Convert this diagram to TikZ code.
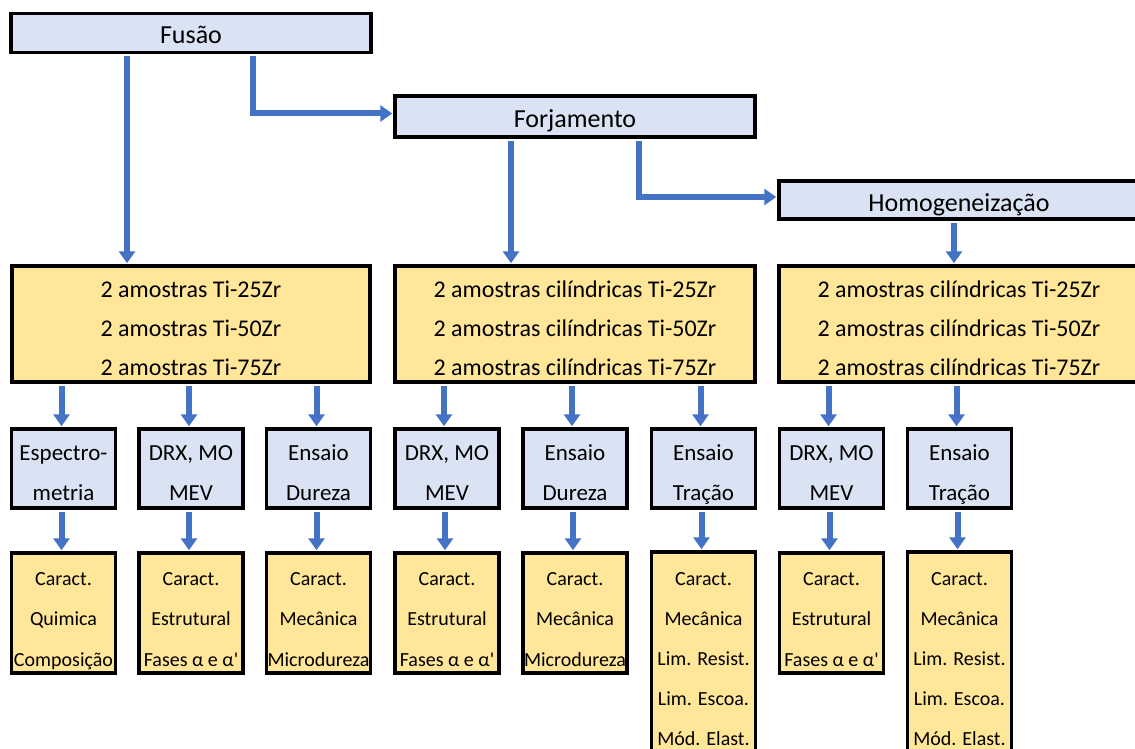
\documentclass[tikz,border=0pt]{standalone}
\usepackage{fontspec}
\setmainfont{Carlito}[Ligatures=TeXOff]
\usetikzlibrary{arrows.meta}
\definecolor{boxblue}{RGB}{218,227,243}
\definecolor{boxyel}{RGB}{255,230,153}
\definecolor{arrblue}{RGB}{68,114,196}
\newcommand{\firststrut}[1]{\rule{0pt}{#1}}
\newcommand{\laststrut}{\rule[-6pt]{0pt}{0pt}}
\tikzset{
  topbox/.style={draw=black, line width=3.5pt, fill=boxblue, inner sep=0pt,
    minimum width=360pt, minimum height=39pt, text height=24pt, text depth=2pt,
    font=\fontsize{26}{30}\selectfont},
  yelbox/.style={draw=black, line width=3.5pt, fill=boxyel, inner sep=0pt, align=center,
    minimum width=360pt, minimum height=116pt, font=\fontsize{24}{39}\selectfont},
  bluebox/.style={draw=black, line width=3.5pt, fill=boxblue, inner sep=0pt, align=center,
    minimum width=104pt, minimum height=79pt, font=\fontsize{23}{40}\selectfont},
  resbox/.style={draw=black, line width=3.5pt, fill=boxyel, inner sep=0pt, align=center,
    minimum width=104pt, minimum height=120pt, font=\fontsize{20}{40.5}\selectfont},
  longbox/.style={resbox, minimum height=201pt, font=\fontsize{20}{40}\selectfont},
  arr/.style={draw=arrblue, line width=6pt, -{Triangle[width=16pt,length=12pt]},
    shorten <=2pt, shorten >=1pt}
}
\begin{document}
\begin{tikzpicture}[x=1pt,y=-1pt]
\useasboundingbox (0,0) rectangle (1135,749);
\fill[white] (0,0) rectangle (1135,749);
\clip (0,0) rectangle (1135,749);

% top process boxes
\node[topbox] (fus) at (191,33) {Fusão};
\node[topbox, minimum height=41pt] (forj) at (575,116.5) {Forjamento};
\node[topbox, minimum height=38pt] (homo) at (959,200) {Homogeneização};

% sample boxes
\node[yelbox, minimum width=358pt] (y1) at (191,324) {\firststrut{30pt}2 amostras Ti-25Zr\\2 amostras Ti-50Zr\\2 amostras Ti-75Zr\laststrut};
\node[yelbox] (y2) at (575,324) {\firststrut{30pt}2 amostras cilíndricas Ti-25Zr\\2 amostras cilíndricas Ti-50Zr\\2 amostras cilíndricas Ti-75Zr\laststrut};
\node[yelbox] (y3) at (959,324) {\firststrut{30pt}2 amostras cilíndricas Ti-25Zr\\2 amostras cilíndricas Ti-50Zr\\2 amostras cilíndricas Ti-75Zr\laststrut};

% technique boxes
\node[bluebox] (b1) at (63.5,468.5) {\firststrut{29pt}Espectro-\\metria\laststrut};
\node[bluebox] (b2) at (191,468.5) {\firststrut{29pt}DRX, MO\\MEV\laststrut};
\node[bluebox] (b3) at (318.5,468.5) {\firststrut{29pt}Ensaio\\Dureza\laststrut};
\node[bluebox] (b4) at (447,468.5) {\firststrut{29pt}DRX, MO\\MEV\laststrut};
\node[bluebox] (b5) at (575,468.5) {\firststrut{29pt}Ensaio\\Dureza\laststrut};
\node[bluebox] (b6) at (703.5,468.5) {\firststrut{29pt}Ensaio\\Tração\laststrut};
\node[bluebox] (b7) at (831.5,468.5) {\firststrut{29pt}DRX, MO\\MEV\laststrut};
\node[bluebox] (b8) at (959.5,468.5) {\firststrut{29pt}Ensaio\\Tração\laststrut};

% result boxes
\node[resbox] (c1) at (63.5,613) {\firststrut{31pt}Caract.\\Quimica\\Composição\laststrut};
\node[resbox] (c2) at (191,613) {\firststrut{31pt}Caract.\\Estrutural\\Fases α e α'\laststrut};
\node[resbox] (c3) at (318.5,613) {\firststrut{31pt}Caract.\\Mecânica\\Microdureza\laststrut};
\node[resbox] (c4) at (447,613) {\firststrut{31pt}Caract.\\Estrutural\\Fases α e α'\laststrut};
\node[resbox] (c5) at (575,613) {\firststrut{31pt}Caract.\\Mecânica\\Microdureza\laststrut};
\node[longbox] (c6) at (703.5,652.5) {\firststrut{31pt}Caract.\\Mecânica\\Lim. Resist.\\Lim. Escoa.\\Mód. Elast.\laststrut};
\node[resbox] (c7) at (831.5,613) {\firststrut{31pt}Caract.\\Estrutural\\Fases α e α'\laststrut};
\node[longbox] (c8) at (959.5,652.5) {\firststrut{31pt}Caract.\\Mecânica\\Lim. Resist.\\Lim. Escoa.\\Mód. Elast.\laststrut};

% connectors
\draw[arr] ([xshift=-64pt]fus.south) -- ([xshift=-64pt]y1.north);
\draw[arr] ([xshift=62pt]fus.south) |- ([yshift=3pt]forj.west);
\draw[arr] ([xshift=-64pt]forj.south) -- ([xshift=-64pt]y2.north);
\draw[arr] ([xshift=64pt]forj.south) |- ([yshift=3pt]homo.west);
\draw[arr] ([xshift=-5pt]homo.south) -- ([xshift=-5pt]y3.north);

\foreach \b in {b1,b2,b3} \draw[arr] ([xshift=-2pt]\b.north |- y1.south) -- ([xshift=-2pt]\b.north);
\foreach \b in {b4,b5,b6} \draw[arr] ([xshift=-3pt]\b.north |- y2.south) -- ([xshift=-3pt]\b.north);
\foreach \b in {b7,b8} \draw[arr] ([xshift=-3pt]\b.north |- y3.south) -- ([xshift=-3pt]\b.north);

\foreach \i in {1,...,8} \draw[arr] ([xshift=-2pt]b\i.south) -- ([xshift=-2pt]c\i.north);
\end{tikzpicture}
\end{document}
